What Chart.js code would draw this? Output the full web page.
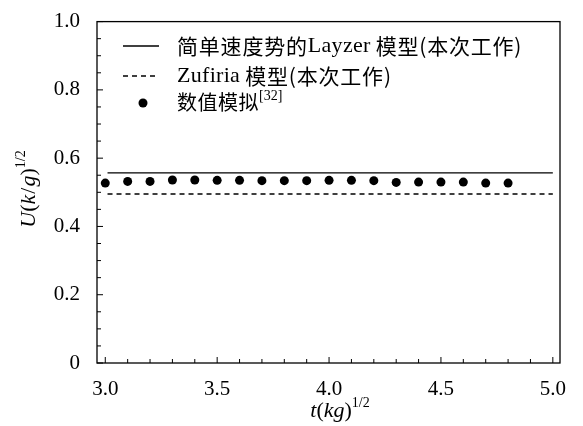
<!DOCTYPE html>
<html>
<head>
<meta charset="utf-8">
<script src="https://cdn.jsdelivr.net/npm/chart.js@4.4.1/dist/chart.umd.min.js"></script>
<style>
  html, body { margin: 0; padding: 0; background: #fff; }
  #wrap { width: 583px; height: 426px; }
</style>
</head>
<body>
<div id="wrap"><canvas id="chart" width="583" height="426"></canvas></div>
<script>
// 数据
const simT = [3.0, 3.1, 3.2, 3.3, 3.4, 3.5, 3.6, 3.7, 3.8, 3.9, 4.0, 4.1, 4.2, 4.3, 4.4, 4.5, 4.6, 4.7, 4.8];
const simU = [0.527, 0.532, 0.532, 0.536, 0.536, 0.535, 0.535, 0.534, 0.534, 0.534, 0.535, 0.535, 0.534, 0.529, 0.530, 0.530, 0.530, 0.527, 0.527];
const layzerT = [3.01, 5.0];
const layzerU = [0.557, 0.557];
const zufiriaT = [3.01, 5.0];
const zufiriaU = [0.495, 0.495];
const xTickLabels = ['3.0', '3.5', '4.0', '4.5', '5.0'];
const yTickLabels = ['0', '0.2', '0.4', '0.6', '0.8', '1.0'];
const legendLabels = ['简单速度势的Layzer模型(本次工作)', 'Zufiria模型(本次工作)', '数值模拟'];
const legendRef = '[32]';

const serif = '"Liberation Serif", "Noto Sans CJK SC", serif';
const cjk = '"Noto Sans CJK SC", sans-serif';

function toPoints(xs, ys) {
    return xs.map((x, i) => ({ x: x, y: ys[i] }));
}

function isLabelled(value, labels) {
    return labels.some(l => Math.abs(parseFloat(l) - value) < 1e-6);
}

// 画一串带不同字体的文字
function drawRuns(ctx, runs, x, y) {
    let cx = x;
    runs.forEach(r => {
        ctx.font = r.font;
        ctx.letterSpacing = r.spacing || '0px';
        cx += r.gap || 0;
        ctx.fillText(r.text, cx, y + (r.dy || 0));
        cx += ctx.measureText(r.text).width;
    });
    ctx.letterSpacing = '0px';
    return cx - x;
}

function runsWidth(ctx, runs) {
    let w = 0;
    runs.forEach(r => {
        ctx.font = r.font;
        ctx.letterSpacing = r.spacing || '0px';
        w += ctx.measureText(r.text).width + (r.gap || 0);
    });
    ctx.letterSpacing = '0px';
    return w;
}

// 把图例文字拆成中文/西文两种字体
function splitLabel(text) {
    const parts = text.match(/[A-Za-z]+|[^A-Za-z]+/g);
    return parts.map((p, i) => {
        const latin = /^[A-Za-z]+$/.test(p);
        return {
            text: p,
            font: latin ? '22px ' + serif : '21px ' + cjk,
            spacing: latin ? '0.3px' : '0.8px',
            gap: (!latin && i > 0) ? 5 : 0
        };
    });
}

const framePlugin = {
    id: 'framePlugin',
    afterDraw(chart) {
        const ctx = chart.ctx;
        const area = chart.chartArea;
        const xs = chart.scales.x;
        const ys = chart.scales.y;
        ctx.save();
        ctx.strokeStyle = '#000';
        ctx.fillStyle = '#000';
        ctx.lineWidth = 1.3;

        // 边框
        ctx.strokeRect(area.left, area.top, area.right - area.left, area.bottom - area.top);

        // 刻度 (朝内)
        ctx.lineWidth = 1;
        ctx.beginPath();
        xs.ticks.forEach(t => {
            const px = xs.getPixelForValue(t.value);
            const len = isLabelled(t.value, xTickLabels) ? 6 : 4;
            ctx.moveTo(px, area.bottom);
            ctx.lineTo(px, area.bottom - len);
        });
        ys.ticks.forEach(t => {
            const py = ys.getPixelForValue(t.value);
            const len = isLabelled(t.value, yTickLabels) ? 6 : 4;
            ctx.moveTo(area.left, py);
            ctx.lineTo(area.left + len, py);
        });
        ctx.stroke();

        // 图例
        ctx.textBaseline = 'middle';
        ctx.textAlign = 'left';
        const rows = [46, 76, 103];
        ctx.lineWidth = 1.3;
        ctx.beginPath();
        ctx.moveTo(123, rows[0]);
        ctx.lineTo(159, rows[0]);
        ctx.stroke();
        ctx.setLineDash([5, 4]);
        ctx.beginPath();
        ctx.moveTo(123, rows[1]);
        ctx.lineTo(159, rows[1]);
        ctx.stroke();
        ctx.setLineDash([]);
        ctx.beginPath();
        ctx.arc(143, rows[2], 4.5, 0, Math.PI * 2);
        ctx.fill();

        drawRuns(ctx, splitLabel(legendLabels[0]), 177, rows[0]);
        drawRuns(ctx, splitLabel(legendLabels[1]), 177, rows[1]);
        drawRuns(ctx, [
            { text: legendLabels[2], font: '20px ' + cjk, spacing: '0.5px' },
            { text: legendRef, font: '14px ' + serif, dy: -6 }
        ], 177, rows[2] - 1);

        // 轴标题
        const italic = 'italic 22px ' + serif;
        const normal = '22px ' + serif;
        const sup = '14px ' + serif;
        const xTitle = [
            { text: 't', font: italic },
            { text: '(', font: normal },
            { text: 'kg', font: italic },
            { text: ')', font: normal },
            { text: '1/2', font: sup, dy: -8 }
        ];
        const xw = runsWidth(ctx, xTitle);
        drawRuns(ctx, xTitle, 340 - xw / 2, 411);

        const yTitle = [
            { text: 'U', font: italic },
            { text: '(', font: normal },
            { text: 'k', font: italic },
            { text: '/', font: normal, gap: 1 },
            { text: 'g', font: italic, gap: 1 },
            { text: ')', font: normal },
            { text: '1/2', font: sup, dy: -8 }
        ];
        const yw = runsWidth(ctx, yTitle);
        ctx.translate(29, 189);
        ctx.rotate(-Math.PI / 2);
        drawRuns(ctx, yTitle, -yw / 2, 0);
        ctx.restore();
    }
};

function buildTicks(from, to, step) {
    const out = [];
    const n = Math.round((to - from) / step);
    for (let i = 0; i <= n; i++) {
        out.push({ value: +(from + i * step).toFixed(4) });
    }
    return out;
}

new Chart(document.getElementById('chart'), {
    type: 'line',
    data: {
        datasets: [
            {
                label: legendLabels[0],
                data: toPoints(layzerT, layzerU),
                borderColor: '#000',
                borderWidth: 1.3,
                pointRadius: 0,
                fill: false
            },
            {
                label: legendLabels[1],
                data: toPoints(zufiriaT, zufiriaU),
                borderColor: '#000',
                borderWidth: 1.3,
                borderDash: [5, 4],
                pointRadius: 0,
                fill: false
            },
            {
                label: legendLabels[2],
                data: toPoints(simT, simU),
                showLine: false,
                pointRadius: 4.5,
                pointBackgroundColor: '#000',
                pointBorderColor: '#000',
                pointBorderWidth: 0
            }
        ]
    },
    options: {
        responsive: false,
        animation: false,
        layout: { padding: { top: 17, right: 23, left: 0, bottom: 0 } },
        plugins: {
            legend: { display: false },
            tooltip: { enabled: false }
        },
        scales: {
            x: {
                type: 'linear',
                min: 2.963,
                max: 5.032,
                grid: { display: false },
                border: { display: false },
                afterBuildTicks: scale => { scale.ticks = buildTicks(3.0, 5.0, 0.1); },
                afterFit: scale => { scale.height = 63; },
                ticks: {
                    autoSkip: false,
                    maxRotation: 0,
                    padding: 6,
                    color: '#000',
                    font: { family: serif, size: 21 },
                    callback: value => isLabelled(value, xTickLabels) ? value.toFixed(1) : ''
                }
            },
            y: {
                min: 0,
                max: 1.0,
                grid: { display: false },
                border: { display: false },
                afterBuildTicks: scale => { scale.ticks = buildTicks(0, 1.0, 0.05); },
                afterFit: scale => { scale.width = 97; },
                ticks: {
                    autoSkip: false,
                    padding: 9,
                    color: '#000',
                    font: { family: serif, size: 21 },
                    callback: value => {
                        if (!isLabelled(value, yTickLabels)) return '';
                        return value === 0 ? '0' : value.toFixed(1);
                    }
                }
            }
        }
    },
    plugins: [framePlugin]
});
</script>
</body>
</html>
